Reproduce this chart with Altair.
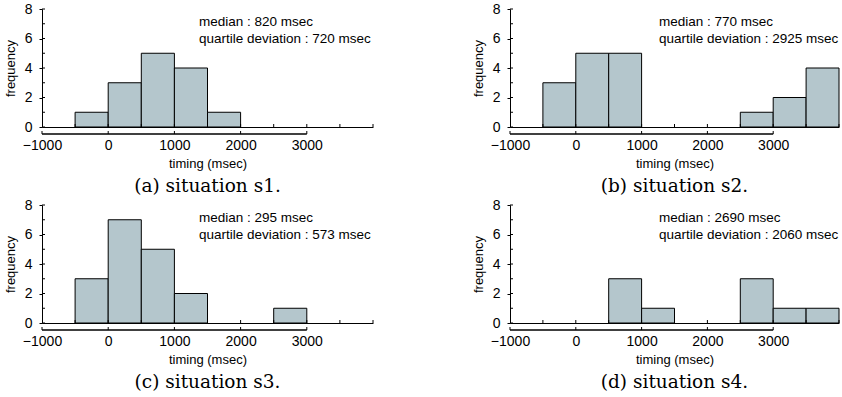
import altair as alt
import pandas as pd

# ---- data ----
bin_edges = [-1000, -500, 0, 500, 1000, 1500, 2000, 2500, 3000, 3500, 4000]
counts_s1 = [0, 1, 3, 5, 4, 1, 0, 0, 0, 0]
counts_s2 = [0, 3, 5, 5, 0, 0, 0, 1, 2, 4]
counts_s3 = [0, 3, 7, 5, 2, 0, 0, 1, 0, 0]
counts_s4 = [0, 0, 0, 3, 1, 0, 0, 3, 1, 1]
medians = [820, 770, 295, 2690]
quartile_devs = [720, 2925, 573, 2060]
captions = ["(a) situation s1.", "(b) situation s2.", "(c) situation s3.", "(d) situation s4."]
x_tick_labels = [-1000, 0, 1000, 2000, 3000]
x_minor_ticks = [-500, 0, 500, 1000, 1500, 2000, 2500, 3000, 3500, 4000]
y_tick_labels = [0, 2, 4, 6, 8]
y_minor_ticks = [0, 1, 2, 3, 4, 5, 6, 7, 8]
x_axis_span = [-1000, 3000]
note_rows_y = [7.12, 5.97]

H = 118
BAR = "#b4c6cc"
SANS = "Liberation Sans"
SERIF = "DejaVu Serif"


def panel(counts, med, qd, caption, text_x, width):
    df = pd.DataFrame({"start": bin_edges[:-1], "end": bin_edges[1:], "count": counts})
    df["base"] = 0
    df = df[df["count"] > 0]
    xs = alt.Scale(domain=[-1000, 4000], nice=False, zero=False)
    ys = alt.Scale(domain=[0, 8], nice=False)
    xa = alt.Axis(values=x_tick_labels, title="timing (msec)")
    ya = alt.Axis(values=y_tick_labels, title="frequency")

    bars = alt.Chart(df).mark_rect(fill=BAR, stroke="black", strokeWidth=1).encode(
        x=alt.X("start:Q", scale=xs, axis=xa),
        x2="end:Q",
        y=alt.Y("count:Q", scale=ys, axis=ya),
        y2="base:Q",
    )

    span = pd.DataFrame({"a": [x_axis_span[0]], "b": [x_axis_span[1]]})
    low_line = alt.Chart(span).mark_rule(color="black", strokeWidth=1.3).encode(
        x=alt.X("a:Q", scale=xs, axis=xa), x2="b:Q", y=alt.value(H + 7))
    low_ticks = alt.Chart(pd.DataFrame({"v": x_tick_labels})).mark_rule(color="black").encode(
        x=alt.X("v:Q", scale=xs, axis=xa), y=alt.value(H + 4), y2=alt.value(H + 7))
    base_ticks = alt.Chart(pd.DataFrame({"v": x_minor_ticks})).mark_rule(color="black").encode(
        x=alt.X("v:Q", scale=xs, axis=xa), y=alt.value(H), y2=alt.value(H - 3))
    y_ticks = alt.Chart(pd.DataFrame({"v": y_minor_ticks})).mark_rule(color="black").encode(
        y=alt.Y("v:Q", scale=ys, axis=ya), x=alt.value(0), x2=alt.value(3))

    lines = pd.DataFrame({
        "t": [f"median : {med} msec", f"quartile deviation : {qd} msec"],
        "yy": note_rows_y,
    })
    txt = alt.Chart(lines).mark_text(align="left", baseline="middle", font=SANS,
                                     fontSize=13.5, color="black").encode(
        text="t:N",
        x=alt.value(text_x),
        y=alt.Y("yy:Q", scale=ys, axis=ya),
    )

    return alt.layer(bars, base_ticks, y_ticks, low_line, low_ticks, txt).properties(
        width=width, height=H,
        title=alt.TitleParams(caption, orient="bottom", font=SERIF, fontSize=18.5,
                              fontWeight="normal", color="black", offset=7),
    )


pa = panel(counts_s1, medians[0], quartile_devs[0], captions[0], 157, 331)
pb = panel(counts_s2, medians[1], quartile_devs[1], captions[1], 149, 329)
pc = panel(counts_s3, medians[2], quartile_devs[2], captions[2], 157, 331)
pd_ = panel(counts_s4, medians[3], quartile_devs[3], captions[3], 149, 329)

chart = alt.vconcat(
    alt.hconcat(pa, pb, spacing=98),
    alt.hconcat(pc, pd_, spacing=98),
    spacing=2,
).properties(
    padding={"left": 4, "top": 2, "right": 0, "bottom": 0}
).configure_view(
    stroke=None
).configure_axis(
    format="d", domain=True, domainColor="black", domainWidth=1, grid=False,
    labelFont=SANS, labelFontSize=14, labelColor="black", labelOverlap=False,
    titleFont=SANS, titleFontSize=13, titleFontWeight="normal", titleColor="black",
    labelFlush=False,
).configure_axisX(
    ticks=False, labelPadding=11, titlePadding=5,
).configure_axisY(
    ticks=True, tickSize=3, tickColor="black", labelPadding=7, titlePadding=7,
)

chart.save("out.html", embed_options={"renderer": "svg", "actions": False})
